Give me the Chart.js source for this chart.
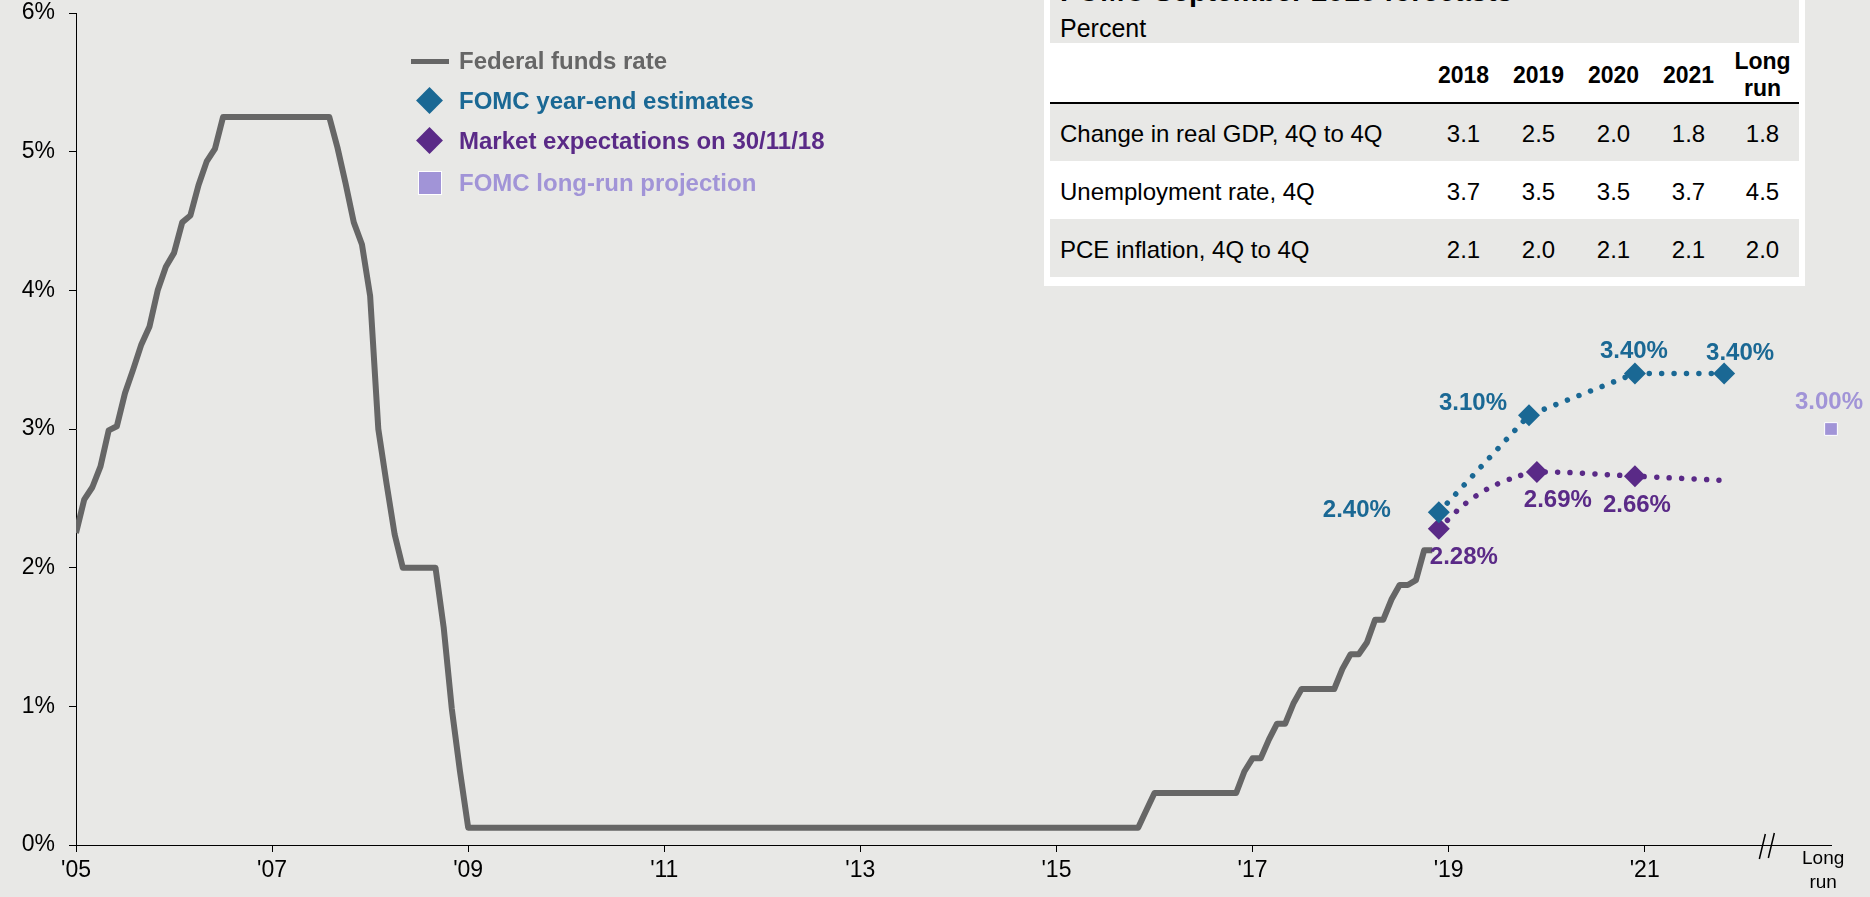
<!DOCTYPE html>
<html lang="en">

<head>
    <meta charset="UTF-8">
    <title>Federal funds rate and FOMC projections</title>
    <script src="https://cdn.jsdelivr.net/npm/chart.js"></script>
    <style>
        body {
            margin: 0;
            background: #e8e8e6;
            font-family: "Liberation Sans", Arial, sans-serif;
            overflow: hidden;
        }

        #wrap {
            position: relative;
            width: 1870px;
            height: 897px;
        }

        #rateChart {
            position: absolute;
            left: 0;
            top: 0;
        }

        .lg-row {
            position: absolute;
            left: 400px;
            height: 30px;
            line-height: 30px;
            font-size: 24px;
            font-weight: bold;
            white-space: nowrap;
        }

        .lg-mark {
            position: absolute;
        }

        .lg-text {
            position: absolute;
            left: 59px;
            top: 0;
        }

        #box {
            position: absolute;
            left: 1044px;
            top: 0;
            width: 761px;
            height: 286px;
            background: #fff;
        }

        #boxHead {
            position: absolute;
            left: 6px;
            top: 0;
            width: 749px;
            height: 43px;
            background: #e8e8e6;
            overflow: hidden;
        }

        #boxTitle {
            position: absolute;
            left: 10px;
            top: -23px;
            font-size: 29px;
            line-height: 29px;
            font-weight: bold;
            white-space: nowrap;
        }

        #boxUnit {
            position: absolute;
            left: 10px;
            top: 16px;
            font-size: 25px;
            line-height: 25px;
        }

        #fc {
            position: absolute;
            left: 6px;
            top: 43px;
            width: 749px;
            border-collapse: collapse;
            table-layout: fixed;
            font-size: 24px;
        }

        #fc th {
            font-weight: bold;
            font-size: 23px;
            text-align: center;
            padding: 5px 0 0 0;
            line-height: 27px;
        }

        #fc thead tr {
            height: 60px;
            border-bottom: 2px solid #000;
        }

        #fc tbody tr {
            height: 58px;
        }

        #fc tbody tr:nth-child(odd) {
            background: #e8e8e6;
        }

        #fc td {
            text-align: center;
            padding: 3px 0 0 0;
        }

        #fc td.name {
            text-align: left;
            padding-left: 10px;
            white-space: nowrap;
        }
    </style>
</head>

<body>
    <div id="wrap">
        <canvas id="rateChart" width="1870" height="897"></canvas>
        <div id="legend"></div>
        <div id="box">
            <div id="boxHead">
                <div id="boxTitle">FOMC September 2018 forecasts</div>
                <div id="boxUnit">Percent</div>
            </div>
            <table id="fc">
                <colgroup>
                    <col style="width:376px">
                    <col style="width:75px">
                    <col style="width:75px">
                    <col style="width:75px">
                    <col style="width:75px">
                    <col style="width:73px">
                </colgroup>
                <thead></thead>
                <tbody></tbody>
            </table>
        </div>
    </div>

    <script>
        // monthly federal funds rate, Jan 2005 - Nov 2018 (%)
        const ffr2005 = [2.25, 2.49, 2.58, 2.73, 2.99, 3.02, 3.26, 3.43, 3.61, 3.74, 4.00, 4.17];
        const ffr2006 = [4.27, 4.49, 4.54, 4.76, 4.93, 5.02, 5.25, 5.25, 5.25, 5.25, 5.25, 5.25];
        const ffr2007 = [5.25, 5.25, 5.25, 5.25, 5.25, 5.25, 5.25, 5.25, 5.03, 4.77, 4.49, 4.33];
        const ffr2008 = [3.96, 3.00, 2.61, 2.24, 2.00, 2.00, 2.00, 2.00, 2.00, 1.57, 0.98, 0.53];
        const ffr2009 = [0.125, 0.125, 0.125, 0.125, 0.125, 0.125, 0.125, 0.125, 0.125, 0.125, 0.125, 0.125];
        const ffr2010 = [0.125, 0.125, 0.125, 0.125, 0.125, 0.125, 0.125, 0.125, 0.125, 0.125, 0.125, 0.125];
        const ffr2011 = [0.125, 0.125, 0.125, 0.125, 0.125, 0.125, 0.125, 0.125, 0.125, 0.125, 0.125, 0.125];
        const ffr2012 = [0.125, 0.125, 0.125, 0.125, 0.125, 0.125, 0.125, 0.125, 0.125, 0.125, 0.125, 0.125];
        const ffr2013 = [0.125, 0.125, 0.125, 0.125, 0.125, 0.125, 0.125, 0.125, 0.125, 0.125, 0.125, 0.125];
        const ffr2014 = [0.125, 0.125, 0.125, 0.125, 0.125, 0.125, 0.125, 0.125, 0.125, 0.125, 0.125, 0.125];
        const ffr2015 = [0.125, 0.125, 0.125, 0.125, 0.125, 0.125, 0.125, 0.125, 0.125, 0.125, 0.125, 0.25];
        const ffr2016 = [0.375, 0.375, 0.375, 0.375, 0.375, 0.375, 0.375, 0.375, 0.375, 0.375, 0.375, 0.53];
        const ffr2017 = [0.625, 0.625, 0.76, 0.875, 0.875, 1.02, 1.125, 1.125, 1.125, 1.125, 1.125, 1.27];
        const ffr2018 = [1.375, 1.375, 1.46, 1.625, 1.625, 1.77, 1.875, 1.875, 1.91, 2.125, 2.125];
        const ffrStartYear = 2005;

        // FOMC year-end estimates
        const fomcYears = [2018.90, 2019.82, 2020.90, 2021.81];
        const fomcValues = [2.40, 3.10, 3.40, 3.40];

        // market expectations on 30/11/18 (year-end points are marked)
        const marketYears = [2018.90, 2019.15, 2019.40, 2019.65, 2019.90, 2020.90, 2021.78];
        const marketValues = [2.28, 2.45, 2.57, 2.645, 2.69, 2.66, 2.63];
        const marketMarked = [true, false, false, false, true, true, false];

        // FOMC long-run projection
        const longRunYear = 2022.90;
        const longRunValue = 3.00;

        // axes
        const tickYears = [2005, 2007, 2009, 2011, 2013, 2015, 2017, 2019, 2021];
        const tickLabels = ["'05", "'07", "'09", "'11", "'13", "'15", "'17", "'19", "'21"];
        const longRunTick = 2022.82;
        const longRunTickLabel = ['Long', 'run'];
        const breakYear = 2022.22;
        const yTicks = [0, 1, 2, 3, 4, 5, 6];

        const seriesNames = ['Federal funds rate', 'FOMC year-end estimates', 'Market expectations on 30/11/18', 'FOMC long-run projection'];
        const seriesColors = ['#666666', '#1a6894', '#5a2a87', '#a194d7'];

        // forecast table
        const fcColumns = ['2018', '2019', '2020', '2021', ['Long', 'run']];
        const fcRows = ['Change in real GDP, 4Q to 4Q', 'Unemployment rate, 4Q', 'PCE inflation, 4Q to 4Q'];
        const fcGdp = [3.1, 2.5, 2.0, 1.8, 1.8];
        const fcUnemployment = [3.7, 3.5, 3.5, 3.7, 4.5];
        const fcPce = [2.1, 2.0, 2.1, 2.1, 2.0];

        const FONT = '"Liberation Sans", Arial, sans-serif';
        Chart.defaults.font.family = FONT;
        Chart.defaults.color = '#000';

        // table
        let head = '<tr><th></th>';
        fcColumns.forEach(c => {
            head += '<th>' + (Array.isArray(c) ? c.join('<br>') : c) + '</th>';
        });
        head += '</tr>';
        document.querySelector('#fc thead').innerHTML = head;
        let body = '';
        [fcGdp, fcUnemployment, fcPce].forEach((vals, i) => {
            body += '<tr><td class="name">' + fcRows[i] + '</td>';
            vals.forEach(v => { body += '<td>' + v.toFixed(1) + '</td>'; });
            body += '</tr>';
        });
        document.querySelector('#fc tbody').innerHTML = body;

        // legend
        const legendY = [61, 101, 141, 183];
        let lg = '';
        seriesNames.forEach((name, i) => {
            let mark;
            if (i === 0) {
                mark = '<div class="lg-mark" style="left:11px;top:13px;width:38px;height:5px;background:' + seriesColors[i] + '"></div>';
            } else if (i === 3) {
                mark = '<div class="lg-mark" style="left:18px;top:3px;width:22px;height:22px;background:' + seriesColors[i] + ';border:1px solid #fff"></div>';
            } else {
                mark = '<div class="lg-mark" style="left:20px;top:5px;width:19px;height:19px;transform:rotate(45deg);background:' + seriesColors[i] + '"></div>';
            }
            lg += '<div class="lg-row" style="top:' + (legendY[i] - 15) + 'px">' + mark +
                '<span class="lg-text" style="color:' + seriesColors[i] + '">' + name + '</span></div>';
        });
        document.getElementById('legend').innerHTML = lg;

        // build monthly points
        const ffrAll = [].concat(ffr2005, ffr2006, ffr2007, ffr2008, ffr2009, ffr2010, ffr2011,
            ffr2012, ffr2013, ffr2014, ffr2015, ffr2016, ffr2017, ffr2018);
        const ffrPoints = ffrAll.map((v, i) => ({ x: ffrStartYear + i / 12, y: v }));
        const fomcPoints = fomcYears.map((x, i) => ({ x: x, y: fomcValues[i] }));
        const marketPoints = marketYears.map((x, i) => ({ x: x, y: marketValues[i] }));

        const pct = v => v.toFixed(2) + '%';

        // value labels next to the markers
        const markLabels = {
            id: 'markLabels',
            afterDatasetsDraw(chart) {
                const ctx = chart.ctx;
                ctx.save();
                ctx.font = 'bold 24px ' + FONT;
                ctx.textAlign = 'center';
                ctx.textBaseline = 'middle';
                chart.data.datasets.forEach((ds, i) => {
                    if (!ds.valueLabels) return;
                    const meta = chart.getDatasetMeta(i);
                    meta.data.forEach((pt, j) => {
                        const txt = ds.valueLabels[j];
                        if (!txt) return;
                        const off = ds.labelOffsets[j];
                        ctx.fillStyle = ds.labelColor;
                        ctx.fillText(txt, pt.x + off[0], pt.y + off[1]);
                    });
                });
                ctx.restore();
            }
        };

        // axis break marks and the two-line "Long run" label
        const axisBreak = {
            id: 'axisBreak',
            afterDraw(chart) {
                const sx = chart.scales.x;
                const x = sx.getPixelForValue(breakYear);
                const y = sx.top;
                const ctx = chart.ctx;
                ctx.save();
                ctx.strokeStyle = '#000';
                ctx.lineWidth = 1.5;
                ctx.beginPath();
                ctx.moveTo(x - 5, y + 14);
                ctx.lineTo(x + 1, y - 11);
                ctx.moveTo(x + 4, y + 13);
                ctx.lineTo(x + 10, y - 12);
                ctx.stroke();

                ctx.fillStyle = '#000';
                ctx.font = '19px ' + FONT;
                ctx.textAlign = 'center';
                ctx.textBaseline = 'middle';
                const lx = sx.getPixelForValue(longRunTick);
                longRunTickLabel.forEach((t, i) => {
                    ctx.fillText(t, lx, y + 14 + i * 24);
                });
                ctx.restore();
            }
        };

        const ctx = document.getElementById('rateChart').getContext('2d');
        new Chart(ctx, {
            type: 'line',
            data: {
                datasets: [{
                    label: seriesNames[0],
                    data: ffrPoints,
                    borderColor: seriesColors[0],
                    borderWidth: 6,
                    borderJoinStyle: 'round',
                    pointRadius: 0,
                    tension: 0,
                    order: 4
                }, {
                    label: seriesNames[2],
                    data: marketPoints,
                    borderColor: seriesColors[2],
                    backgroundColor: seriesColors[2],
                    borderWidth: 5.5,
                    borderDash: [0.01, 12.4],
                    borderCapStyle: 'round',
                    pointStyle: 'rectRot',
                    pointRadius: c => marketMarked[c.dataIndex] ? 11 : 0,
                    pointBorderWidth: 0,
                    tension: 0.3,
                    order: 3,
                    valueLabels: marketValues.map((v, i) => marketMarked[i] ? pct(v) : null),
                    labelOffsets: [[25, 29], null, null, null, [21, 28], [2, 29], null],
                    labelColor: seriesColors[2]
                }, {
                    label: seriesNames[1],
                    data: fomcPoints,
                    borderColor: seriesColors[1],
                    backgroundColor: seriesColors[1],
                    borderWidth: 5.5,
                    borderDash: [0.01, 12.4],
                    borderCapStyle: 'round',
                    pointStyle: 'rectRot',
                    pointRadius: 11,
                    pointBorderWidth: 0,
                    tension: 0,
                    order: 2,
                    valueLabels: fomcValues.map(pct),
                    labelOffsets: [[-82, -2], [-56, -12], [-1, -22], [16, -20]],
                    labelColor: seriesColors[1]
                }, {
                    label: seriesNames[3],
                    data: [{ x: longRunYear, y: longRunValue }],
                    showLine: false,
                    backgroundColor: seriesColors[3],
                    borderColor: '#ffffff',
                    pointStyle: 'rect',
                    pointRadius: 9,
                    pointBorderWidth: 1,
                    clip: false,
                    order: 1,
                    valueLabels: [pct(longRunValue)],
                    labelOffsets: [[-2, -27]],
                    labelColor: seriesColors[3]
                }]
            },
            options: {
                responsive: false,
                animation: false,
                devicePixelRatio: 1,
                layout: { autoPadding: false, padding: { left: 0, right: 39, top: 13, bottom: 0 } },
                plugins: {
                    legend: { display: false },
                    tooltip: { enabled: false }
                },
                scales: {
                    x: {
                        type: 'linear',
                        min: 2005,
                        max: longRunYear,
                        afterFit: s => { s.height = 52; },
                        afterBuildTicks: s => {
                            s.ticks = tickYears.map(v => ({ value: v }));
                        },
                        border: { color: '#000', width: 1 },
                        grid: {
                            drawOnChartArea: false,
                            tickLength: 7,
                            tickColor: '#000'
                        },
                        ticks: {
                            autoSkip: false,
                            maxRotation: 0,
                            padding: 5,
                            font: { size: 23, lineHeight: 1.2 },
                            callback: v => {
                                const i = tickYears.indexOf(v);
                                return i >= 0 ? tickLabels[i] : '';
                            }
                        }
                    },
                    y: {
                        min: 0,
                        max: 6,
                        afterFit: s => {
                            s.width = 76;
                            s.paddingTop = 0;
                            s.paddingBottom = 0;
                        },
                        afterBuildTicks: s => {
                            s.ticks = yTicks.map(v => ({ value: v }));
                        },
                        border: { color: '#000', width: 1 },
                        grid: {
                            drawOnChartArea: false,
                            tickLength: 7,
                            tickColor: '#000'
                        },
                        ticks: {
                            padding: 14,
                            font: { size: 23, lineHeight: 1 },
                            callback: v => v + '%'
                        }
                    }
                }
            },
            plugins: [markLabels, axisBreak]
        });
    </script>
</body>

</html>
